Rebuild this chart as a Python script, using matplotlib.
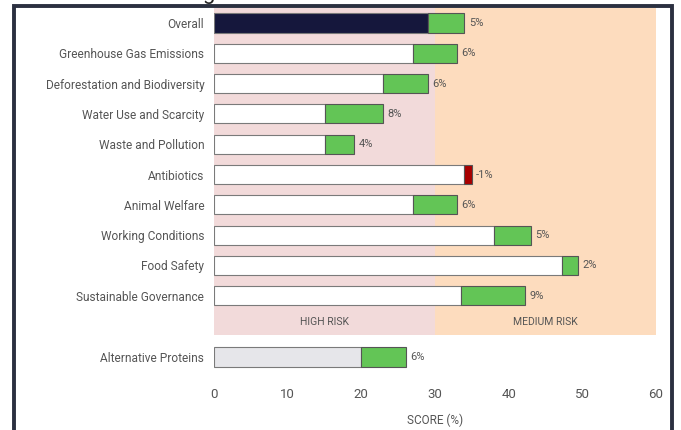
import numpy as np
import matplotlib.pyplot as plt
from matplotlib.patches import Rectangle

plt.rcParams['font.family'] = ['Roboto', 'DejaVu Sans']

categories = ['Overall', 'Greenhouse Gas Emissions', 'Deforestation and Biodiversity',
              'Water Use and Scarcity', 'Waste and Pollution', 'Antibiotics',
              'Animal Welfare', 'Working Conditions', 'Food Safety',
              'Sustainable Governance']
previous = [29, 27, 23, 15, 15, 35, 27, 38, 47.2, 33.5]
current = [34, 33, 29, 23, 19, 34, 33, 43, 49.4, 42.2]

alt_label = 'Alternative Proteins'
alt_previous = 20
alt_current = 26

risk_bands = [(0, 30, 'HIGH RISK'), (30, 60, 'MEDIUM RISK')]
xticks = [0, 10, 20, 30, 40, 50, 60]

text_col = '#555555'
band_cols = ['#f2dada', '#fddcbe']
green = '#63c556'
red = '#a80000'
navy = '#15173c'
edge = '#7a7a7a'

fig = plt.figure(figsize=(6.81, 4.30), dpi=100)
ax = fig.add_axes([214 / 681, 1 - 380 / 430, 442 / 681, (380 - 7.85) / 430])

y = np.arange(len(categories))
alt_y = 11.02
label_y = 9.87
bh = 0.63

# risk background bands
band_top, band_bot = -0.5, 10.3
for (lo, hi, name), col in zip(risk_bands, band_cols):
    ax.barh((band_top + band_bot) / 2, hi - lo, left=lo, height=band_bot - band_top,
            color=col, zorder=0)
    ax.text((lo + hi) / 2, label_y, name, ha='center', va='center',
            fontsize=7.5, color=text_col)

# main bars
for i, (p, c) in enumerate(zip(previous, current)):
    lo, hi = min(p, c), max(p, c)
    base_col = navy if i == 0 else 'white'
    ax.barh(y[i], lo, height=bh, color=base_col, edgecolor=edge, linewidth=0.8, zorder=2)
    seg_col = green if c >= p else red
    ax.barh(y[i], hi - lo, left=lo, height=bh, color=seg_col, edgecolor='#555555',
            linewidth=0.8, zorder=2)
    ax.text(hi + 0.6, y[i], f'{round(c - p)}%', va='center', ha='left',
            fontsize=8, color=text_col)

# alternative proteins
ax.barh(alt_y, alt_previous, height=bh, color='#e6e6ea', edgecolor=edge, linewidth=0.8, zorder=2)
ax.barh(alt_y, alt_current - alt_previous, left=alt_previous, height=bh, color=green,
        edgecolor='#555555', linewidth=0.8, zorder=2)
ax.text(alt_current + 0.6, alt_y, f'{alt_current - alt_previous}%', va='center', ha='left',
        fontsize=8, color=text_col)

ax.set_xlim(0, 60)
ax.set_ylim(11.78, -0.5)
ax.set_yticks(list(y) + [alt_y])
ax.set_yticklabels(categories + [alt_label], fontsize=8.6, color=text_col)
ax.set_xticks(xticks)
ax.set_xticklabels([str(t) for t in xticks], fontsize=9.5, color=text_col)
ax.tick_params(axis='both', length=0)
ax.tick_params(axis='y', pad=7)
ax.tick_params(axis='x', pad=6)
ax.set_xlabel('SCORE (%)', fontsize=8.5, color=text_col, labelpad=9)
for s in ax.spines.values():
    s.set_visible(False)

# outer frame of the screenshot
fig.patches.append(Rectangle((14 / 681, -0.1), (672 - 14) / 681, 1.1 - 6.5 / 430,
                             transform=fig.transFigure, fill=False,
                             edgecolor='#2b3040', linewidth=2.8))
fig.text(203 / 681, 1 + 1 / 430, 'g', fontsize=16, color='#222222', va='baseline')

fig.savefig('out.png', dpi=100)
